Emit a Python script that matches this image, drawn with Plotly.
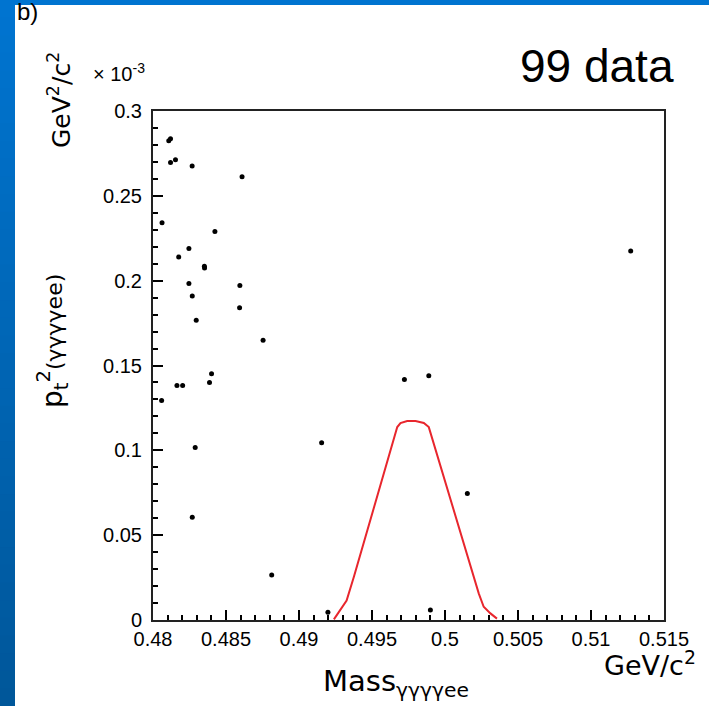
import plotly.graph_objects as go

# ---- data ----
mass = [0.48108, 0.48120, 0.48120, 0.48154, 0.48268, 0.48610, 0.48062, 0.48424,
        0.48176, 0.48246, 0.48352, 0.48353, 0.48246, 0.48269, 0.48595, 0.48593,
        0.48296, 0.48164, 0.48203, 0.48401, 0.48387, 0.48059, 0.48289, 0.48269,
        0.48754, 0.49722, 0.49889, 0.51272, 0.49155, 0.48813, 0.49198, 0.49900,
        0.50153]
pt2 = [0.2824, 0.2837, 0.2696, 0.2712, 0.2676, 0.2612, 0.2341, 0.2290,
       0.2139, 0.2190, 0.2085, 0.2075, 0.1984, 0.1910, 0.1971, 0.1841,
       0.1767, 0.1382, 0.1382, 0.1451, 0.1400, 0.1294, 0.1016, 0.0606,
       0.1649, 0.1418, 0.1439, 0.2175, 0.1045, 0.0265, 0.0045, 0.0059,
       0.0745]

contour_mass = [0.49239, 0.49285, 0.49326, 0.49376, 0.49673, 0.49695, 0.49741,
                0.49798, 0.49855, 0.49889, 0.50231, 0.50265, 0.50311, 0.50356]
contour_pt2 = [0.0004, 0.0059, 0.0114, 0.0255, 0.1137, 0.1161, 0.1173,
               0.1173, 0.1161, 0.1137, 0.0157, 0.0078, 0.0039, 0.0008]

x_tickvals = [0.48, 0.485, 0.49, 0.495, 0.5, 0.505, 0.51, 0.515]
x_ticktext = ["0.48", "0.485", "0.49", "0.495", "0.5", "0.505", "0.51", "0.515"]
y_tickvals = [0, 0.05, 0.1, 0.15, 0.2, 0.25, 0.3]
y_ticktext = ["0", "0.05", "0.1", "0.15", "0.2", "0.25", "0.3"]

# ---- layout geometry (pixels) ----
W, H = 709, 706
L, R, T, B = 153, 45, 111, 86
PW, PH = W - L - R, H - T - B


def px(xp):
    return (xp - L) / PW


def py(yp):
    return (H - B - yp) / PH


fig = go.Figure()
fig.add_trace(go.Scatter(x=contour_mass, y=contour_pt2, mode="lines",
                         line=dict(color="#e8262d", width=2), showlegend=False,
                         hoverinfo="skip"))
fig.add_trace(go.Scatter(x=mass, y=pt2, mode="markers",
                         marker=dict(color="black", size=5), showlegend=False))

tickfont = dict(family="Liberation Sans, Arial, sans-serif", size=20, color="black")
titlefont = "DejaVu Sans, sans-serif"

fig.update_xaxes(range=[0.48, 0.515], tickvals=x_tickvals, ticktext=x_ticktext,
                 ticks="inside", ticklen=10, tickwidth=1.5, tickcolor="black",
                 minor=dict(dtick=0.001, ticks="inside", ticklen=5, tickwidth=1.5,
                            tickcolor="black", showgrid=False),
                 showline=True, linecolor="#222", linewidth=2, mirror=True,
                 showgrid=False, zeroline=False, tickfont=tickfont)
fig.update_yaxes(range=[0, 0.3], tickvals=y_tickvals, ticktext=y_ticktext,
                 ticks="inside", ticklen=10, tickwidth=1.5, tickcolor="black",
                 minor=dict(dtick=0.01, ticks="inside", ticklen=5, tickwidth=1.5,
                            tickcolor="black", showgrid=False),
                 showline=True, linecolor="#222", linewidth=2, mirror=True,
                 showgrid=False, zeroline=False, tickfont=tickfont,
                 ticklabelstandoff=5)

# blue frame strips (gradient approximated with bands)
shapes = []
n = 40
c0 = (0x00, 0x74, 0xD0)
c1 = (0x00, 0x57, 0x9A)
for i in range(n):
    t = i / (n - 1)
    col = "rgb(%d,%d,%d)" % tuple(round(a + (b - a) * t) for a, b in zip(c0, c1))
    y0p = H * i / n
    y1p = H * (i + 1) / n + 1
    shapes.append(dict(type="rect", xref="paper", yref="paper", x0=px(0), x1=px(15),
                       y0=py(y1p), y1=py(y0p), fillcolor=col, line=dict(width=0),
                       layer="above"))
shapes.append(dict(type="rect", xref="paper", yref="paper", x0=px(0), x1=px(W),
                   y0=py(5), y1=py(0), fillcolor="rgb(0,116,208)",
                   line=dict(width=0), layer="above"))

ann = [
    dict(text="99 data", x=px(597), y=py(66), font=dict(family="Liberation Sans, Arial", size=46)),
    dict(text="× 10<sup>-3</sup>", x=px(91), y=py(72), xanchor="left",
         font=dict(family="Liberation Sans, Arial", size=20)),
    dict(text="GeV<sup>2</sup>/c<sup>2</sup>", x=px(59), y=py(100), textangle=-90,
         font=dict(family=titlefont, size=25)),
    dict(text="p<sub>t</sub><sup>2</sup><span style='font-size:22px'>(γγγγee)</span>",
         x=px(52), y=py(341), textangle=-90, font=dict(family=titlefont, size=28)),
    dict(text="b)", x=px(15), y=py(12), xanchor="left",
         font=dict(family="Liberation Sans, Arial", size=24)),
    dict(text="GeV/c<sup>2</sup>", x=px(650), y=py(663),
         font=dict(family=titlefont, size=27)),
    dict(text="Mass<sub>γγγγee</sub>", x=px(396), y=py(683),
         font=dict(family=titlefont, size=29)),
]
for a in ann:
    a.update(xref="paper", yref="paper", showarrow=False)
    a.setdefault("xanchor", "center")
    a.setdefault("yanchor", "middle")
    a["font"].setdefault("color", "black")

fig.update_layout(width=W, height=H, margin=dict(l=L, r=R, t=T, b=B, pad=0),
                  paper_bgcolor="white", plot_bgcolor="white",
                  shapes=shapes, annotations=ann, showlegend=False)

fig.write_html("out.html")
